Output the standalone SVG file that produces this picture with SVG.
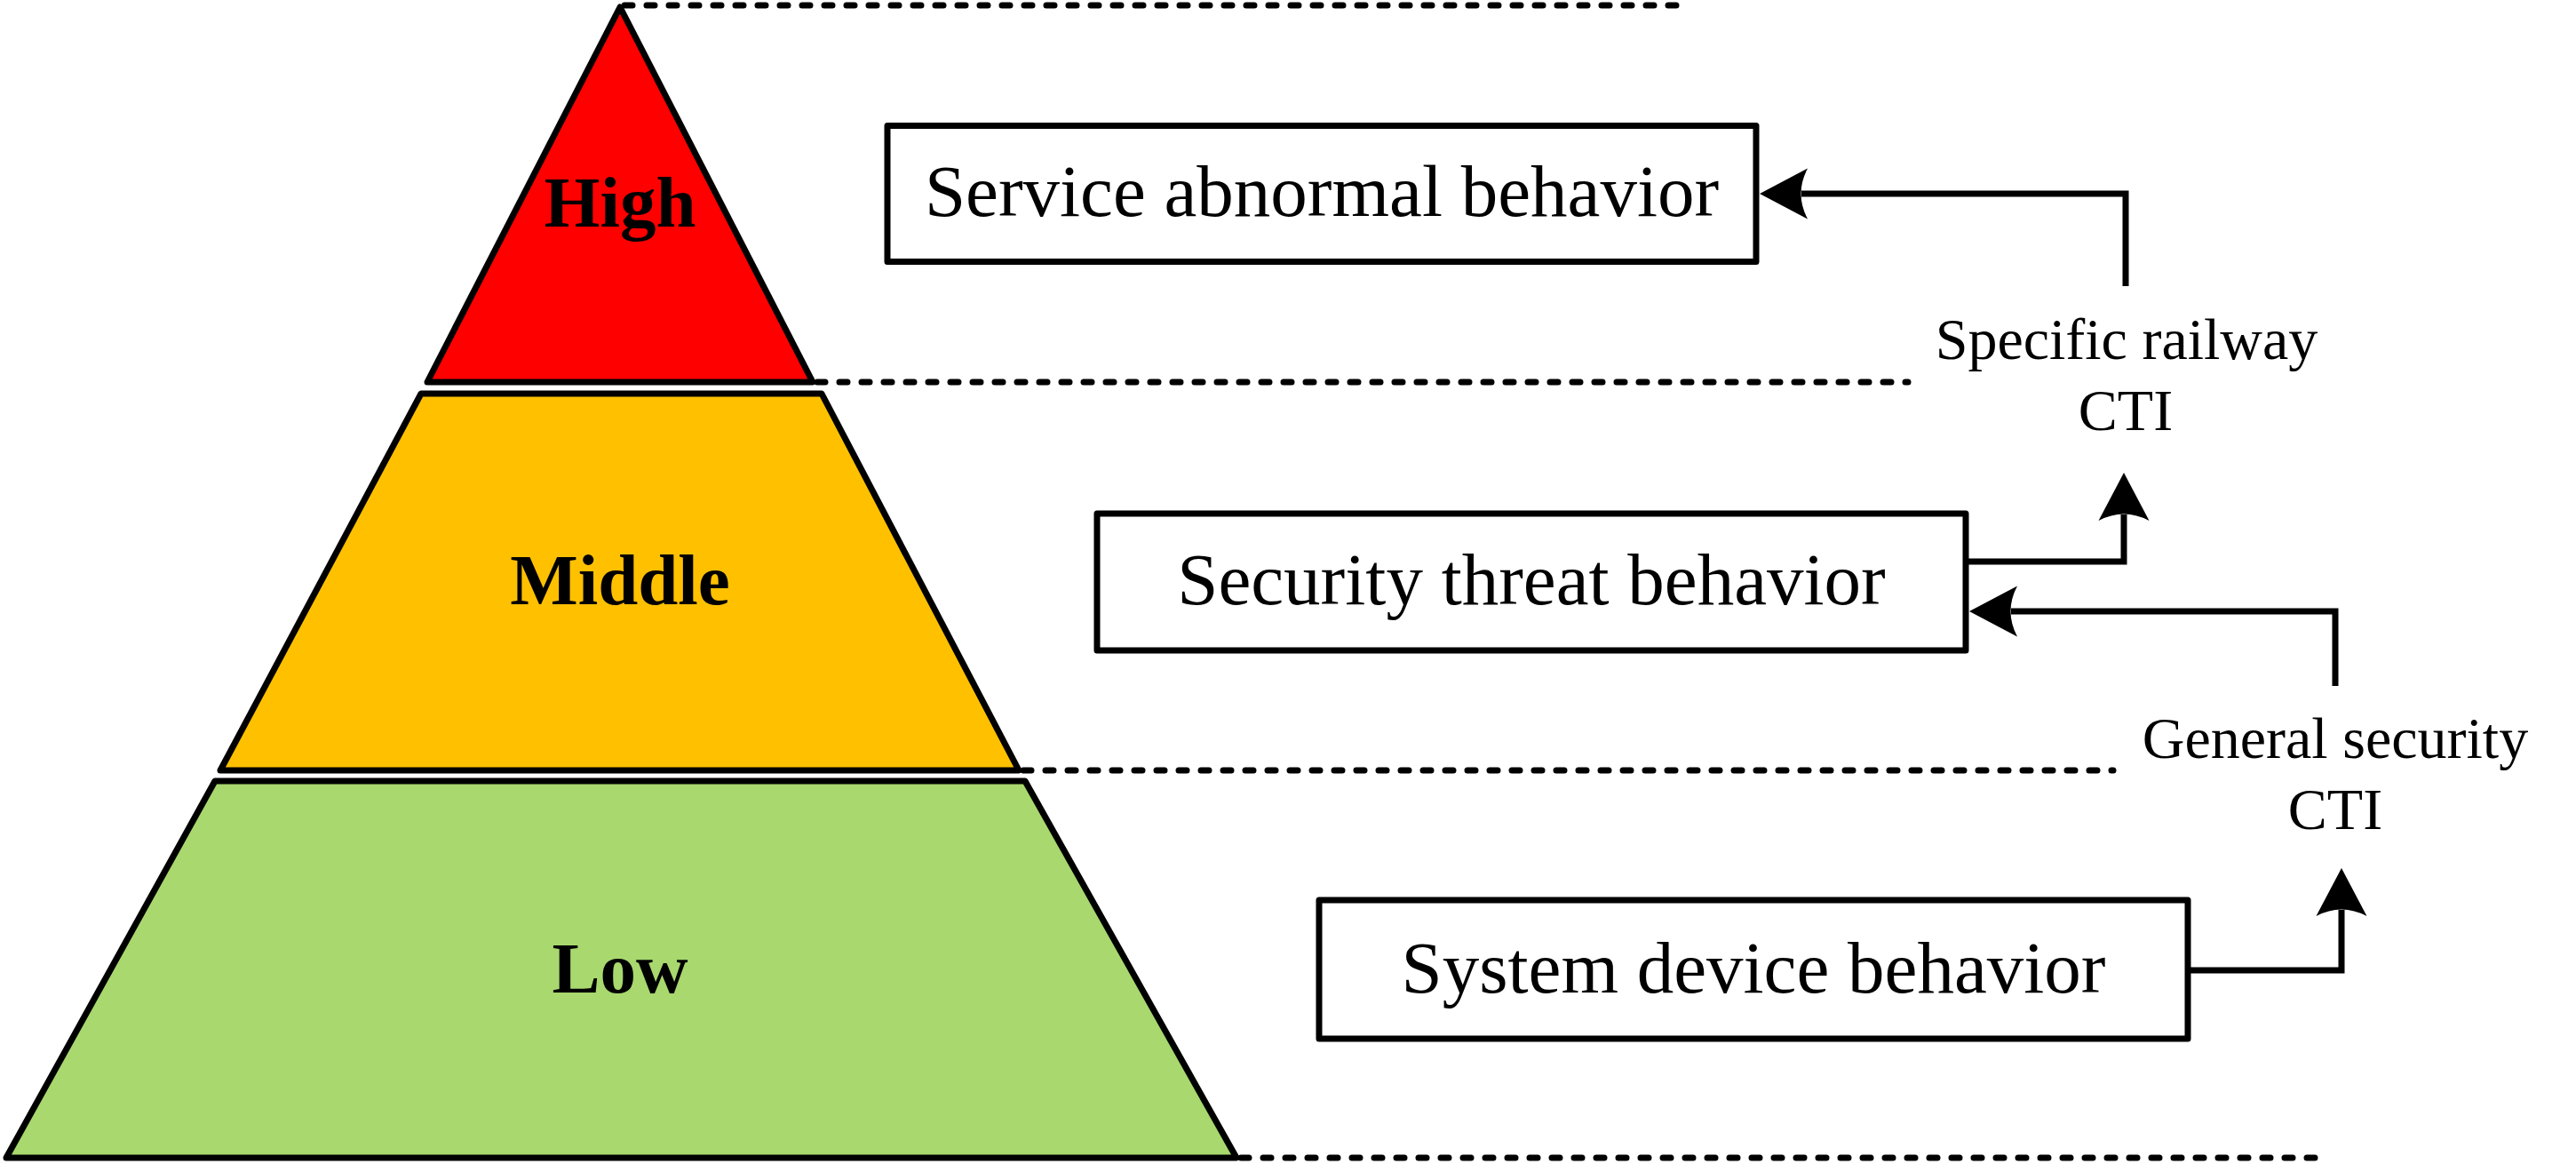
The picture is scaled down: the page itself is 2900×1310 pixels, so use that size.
<svg xmlns="http://www.w3.org/2000/svg" width="2900" height="1310" viewBox="0 0 2900 1310">
  <style>
    .layer { stroke: #000; stroke-width: 7; stroke-linejoin: round; }
    .lvl { font-family: "Liberation Serif", "Times New Roman", serif; font-weight: bold; font-size: 81px; text-anchor: middle; fill: #000; }
    .box { fill: #fff; stroke: #000; stroke-width: 7; stroke-linejoin: round; }
    .boxtxt { font-family: "Liberation Serif", "Times New Roman", serif; font-size: 83px; text-anchor: middle; fill: #000; }
    .cti { font-family: "Liberation Serif", "Times New Roman", serif; font-size: 66px; text-anchor: middle; fill: #000; }
    .dots { fill: none; stroke: #000; stroke-width: 7; stroke-linecap: round; stroke-dasharray: 9 16; }
    .conn { fill: none; stroke: #000; stroke-width: 7; stroke-linejoin: miter; stroke-linecap: butt; }
  </style>
  <defs>
    <marker id="arrow" markerUnits="userSpaceOnUse" viewBox="0 -30 56 60" markerWidth="56" markerHeight="60" refX="7" refY="0" orient="auto">
      <path d="M0,-28.5 L54,0 L0,28.5 Q15,0 0,-28.5 Z" fill="#000"/>
    </marker>
  </defs>

  <g id="guides">
    <line class="dots" x1="703" y1="6" x2="1898" y2="6"/>
    <line class="dots" x1="920" y1="430" x2="2148" y2="430"/>
    <line class="dots" x1="1152" y1="867" x2="2379" y2="867"/>
    <line class="dots" x1="1397" y1="1303" x2="2620" y2="1303"/>
  </g>

  <g id="level-high">
    <polygon class="layer" fill="#FF0000" points="698,8 915,430 481,430"/>
    <text class="lvl" x="698" y="255">High</text>
  </g>

  <g id="level-middle">
    <polygon class="layer" fill="#FFC000" points="474,443 925,443 1147,867 248,867"/>
    <text class="lvl" x="698" y="680">Middle</text>
  </g>

  <g id="level-low">
    <polygon class="layer" fill="#A8D86E" points="242,879 1154,879 1392,1303 7,1303"/>
    <text class="lvl" x="698" y="1117">Low</text>
  </g>

  <g id="box-service">
    <rect class="box" x="999" y="141.5" width="978" height="153"/>
    <text class="boxtxt" x="1488" y="243">Service abnormal behavior</text>
  </g>

  <g id="box-security">
    <rect class="box" x="1235" y="578" width="978" height="154"/>
    <text class="boxtxt" x="1724" y="680">Security threat behavior</text>
  </g>

  <g id="box-system">
    <rect class="box" x="1485" y="1013" width="978" height="156"/>
    <text class="boxtxt" x="1974" y="1117">System device behavior</text>
  </g>

  <g id="label-specific">
    <text class="cti" x="2394" y="404">Specific railway</text>
    <text class="cti" x="2393" y="484">CTI</text>
  </g>

  <g id="label-general">
    <text class="cti" x="2629" y="853">General security</text>
    <text class="cti" x="2629" y="933">CTI</text>
  </g>

  <g id="connectors">
    <path class="conn" d="M2393,322 V218 H2028" marker-end="url(#arrow)"/>
    <path class="conn" d="M2213,632 H2391 V579" marker-end="url(#arrow)"/>
    <path class="conn" d="M2629,772 V688 H2264" marker-end="url(#arrow)"/>
    <path class="conn" d="M2463,1092 H2636 V1024" marker-end="url(#arrow)"/>
  </g>
</svg>
